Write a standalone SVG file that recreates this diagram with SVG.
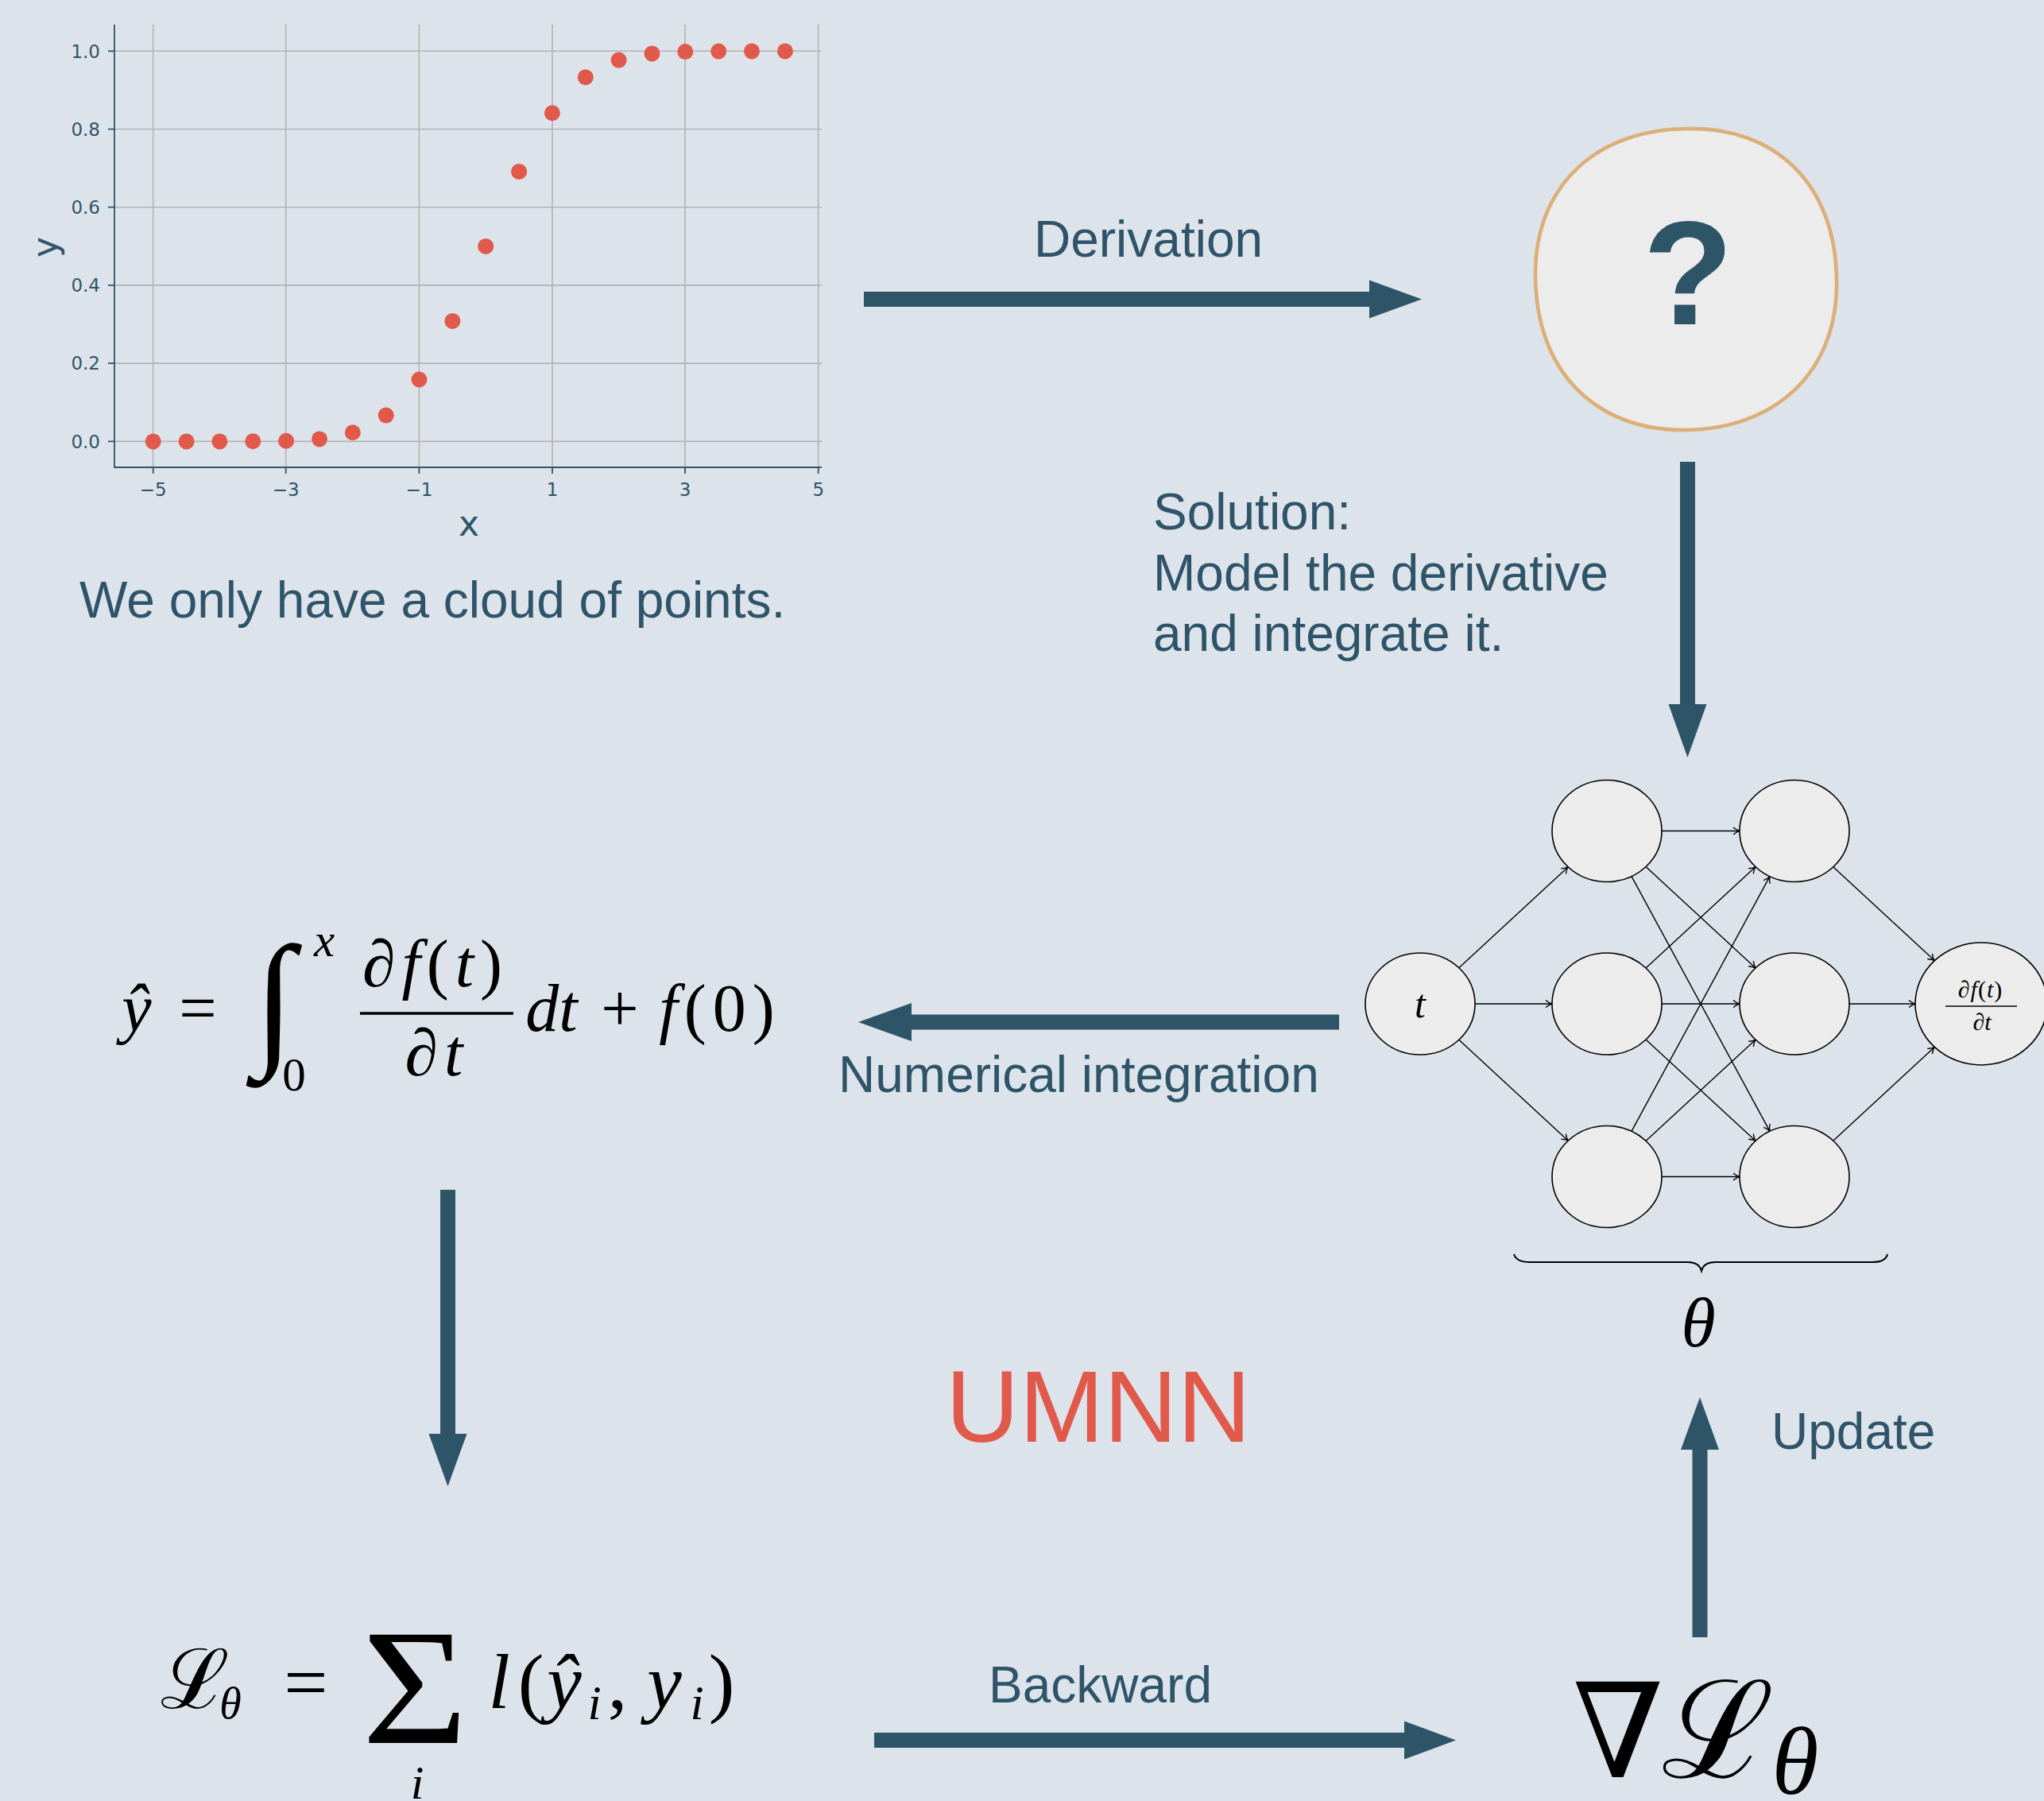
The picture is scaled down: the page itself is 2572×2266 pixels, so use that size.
<svg xmlns="http://www.w3.org/2000/svg" width="2572" height="2266" viewBox="0 0 2572 2266">
<defs>
<style>
.lbl{font-family:"Liberation Sans",Arial,sans-serif;font-size:64px;fill:#2f5469}
.math{font-family:"Liberation Serif","DejaVu Serif",serif;fill:#000}
.it{font-style:italic}
.arrow{fill:#2e5468}
.nn{fill:#ececec;stroke:#000;stroke-width:1.6}
.edge{stroke:#000;stroke-width:1.4;fill:none;marker-end:url(#tip)}
.grid{stroke:#b3b3b3;stroke-width:1.6}
.spine{stroke:#2f5469;stroke-width:1.8}
.tick{font-family:"DejaVu Sans",sans-serif;font-size:23px;fill:#2f5469}
.pt{fill:#e1594a}
</style>
<marker id="tip" viewBox="-10 -6 12 12" refX="0" refY="0" markerWidth="12" markerHeight="12" markerUnits="userSpaceOnUse" orient="auto">
<path d="M-8,-4.5 C-5,-2 -2,-0.5 0,0 C-2,0.5 -5,2 -8,4.5" fill="none" stroke="#000" stroke-width="1.4"/>
</marker>
</defs>
<rect x="0" y="0" width="2572" height="2266" fill="#dce3ea"/>

<g id="plot">
<g class="grid">
<line x1="192.7" y1="31" x2="192.7" y2="588"/>
<line x1="359.7" y1="31" x2="359.7" y2="588"/>
<line x1="527.4" y1="31" x2="527.4" y2="588"/>
<line x1="695" y1="31" x2="695" y2="588"/>
<line x1="862" y1="31" x2="862" y2="588"/>
<line x1="1029.7" y1="31" x2="1029.7" y2="588"/>
<line x1="144" y1="64.3" x2="1034" y2="64.3"/>
<line x1="144" y1="162.5" x2="1034" y2="162.5"/>
<line x1="144" y1="260.7" x2="1034" y2="260.7"/>
<line x1="144" y1="358.9" x2="1034" y2="358.9"/>
<line x1="144" y1="457.1" x2="1034" y2="457.1"/>
<line x1="144" y1="555.4" x2="1034" y2="555.4"/>
</g>
<g class="spine">
<line x1="144" y1="31" x2="144" y2="588"/>
<line x1="143" y1="588" x2="1034" y2="588"/>
<line x1="136" y1="64.3" x2="144" y2="64.3"/>
<line x1="136" y1="162.5" x2="144" y2="162.5"/>
<line x1="136" y1="260.7" x2="144" y2="260.7"/>
<line x1="136" y1="358.9" x2="144" y2="358.9"/>
<line x1="136" y1="457.1" x2="144" y2="457.1"/>
<line x1="136" y1="555.4" x2="144" y2="555.4"/>
<line x1="192.7" y1="588" x2="192.7" y2="596"/>
<line x1="359.7" y1="588" x2="359.7" y2="596"/>
<line x1="527.4" y1="588" x2="527.4" y2="596"/>
<line x1="695" y1="588" x2="695" y2="596"/>
<line x1="862" y1="588" x2="862" y2="596"/>
<line x1="1029.7" y1="588" x2="1029.7" y2="596"/>
</g>
<g class="tick" text-anchor="end">
<text x="126" y="72.6">1.0</text>
<text x="126" y="170.8">0.8</text>
<text x="126" y="269">0.6</text>
<text x="126" y="367.2">0.4</text>
<text x="126" y="465.4">0.2</text>
<text x="126" y="563.7">0.0</text>
</g>
<g class="tick" text-anchor="middle">
<text x="192.7" y="624">−5</text>
<text x="359.7" y="624">−3</text>
<text x="527.4" y="624">−1</text>
<text x="695" y="624">1</text>
<text x="862" y="624">3</text>
<text x="1029.7" y="624">5</text>
</g>
<text class="tick" x="590" y="674" text-anchor="middle" style="font-size:44px">x</text>
<text class="tick" transform="translate(72,311) rotate(-90)" text-anchor="middle" style="font-size:44px">y</text>
<g class="pt">
<circle cx="192.7" cy="555.4" r="10"/>
<circle cx="234.6" cy="555.4" r="10"/>
<circle cx="276.4" cy="555.4" r="10"/>
<circle cx="318.3" cy="555.3" r="10"/>
<circle cx="360.1" cy="554.7" r="10"/>
<circle cx="402" cy="552.4" r="10"/>
<circle cx="443.8" cy="544.2" r="10"/>
<circle cx="485.7" cy="522.6" r="10"/>
<circle cx="527.5" cy="477.5" r="10"/>
<circle cx="569.4" cy="403.9" r="10"/>
<circle cx="611.2" cy="309.9" r="10"/>
<circle cx="653.1" cy="215.9" r="10"/>
<circle cx="694.9" cy="142.3" r="10"/>
<circle cx="736.8" cy="97.2" r="10"/>
<circle cx="778.6" cy="75.6" r="10"/>
<circle cx="820.5" cy="67.4" r="10"/>
<circle cx="862.3" cy="65.1" r="10"/>
<circle cx="904.2" cy="64.5" r="10"/>
<circle cx="946" cy="64.4" r="10"/>
<circle cx="987.9" cy="64.4" r="10"/>
</g>
<text class="lbl" x="100" y="777">We only have a cloud of points.</text>
</g>

<g id="unknown">
<path d="M2125,162 C2232,160 2311,230 2311,355 C2312,470 2232,541 2118,541 C2010,541 1932,470 1932,345 C1932,232 2010,162 2125,162 Z" fill="#ececec" stroke="#dcaf78" stroke-width="4.7"/>
<text x="2124" y="408" text-anchor="middle" style="font-family:'Liberation Sans',Arial,sans-serif;font-weight:bold;font-size:186px;fill:#2e5468">?</text>
</g>

<g id="solution-label">
<text class="lbl" x="1451" y="666">Solution:</text>
<text class="lbl" x="1451" y="743">Model the derivative</text>
<text class="lbl" x="1451" y="819">and integrate it.</text>
</g>

<g id="network">
<g id="nn-edges">
<line class="edge" x1="1835.8" y1="1217.8" x2="1973.2" y2="1090.7"/>
<line class="edge" x1="1856" y1="1263" x2="1953" y2="1263"/>
<line class="edge" x1="1835.8" y1="1308.2" x2="1973.2" y2="1435.3"/>
<line class="edge" x1="2091" y1="1045.5" x2="2189" y2="1045.5"/>
<line class="edge" x1="2071" y1="1090.6" x2="2209.1" y2="1217.9"/>
<line class="edge" x1="2053" y1="1102.7" x2="2227" y2="1423.3"/>
<line class="edge" x1="2071" y1="1217.9" x2="2209.1" y2="1090.6"/>
<line class="edge" x1="2091" y1="1263" x2="2189" y2="1263"/>
<line class="edge" x1="2071" y1="1308.1" x2="2209.1" y2="1435.4"/>
<line class="edge" x1="2053" y1="1423.3" x2="2227" y2="1102.7"/>
<line class="edge" x1="2071" y1="1435.4" x2="2209.1" y2="1308.1"/>
<line class="edge" x1="2091" y1="1480.5" x2="2189" y2="1480.5"/>
<line class="edge" x1="2306.8" y1="1090.7" x2="2434.2" y2="1208.6"/>
<line class="edge" x1="2327" y1="1263" x2="2410" y2="1263"/>
<line class="edge" x1="2306.8" y1="1435.3" x2="2434.2" y2="1317.4"/>
</g>
<g id="n-t"><ellipse class="nn" cx="1787" cy="1263" rx="69" ry="64"/><text class="math it" x="1787" y="1280" text-anchor="middle" font-size="50">t</text></g>
<g id="n-a1"><ellipse class="nn" cx="2022" cy="1045.5" rx="69" ry="64"/></g>
<g id="n-a2"><ellipse class="nn" cx="2022" cy="1263" rx="69" ry="64"/></g>
<g id="n-a3"><ellipse class="nn" cx="2022" cy="1480.5" rx="69" ry="64"/></g>
<g id="n-b1"><ellipse class="nn" cx="2258" cy="1045.5" rx="69" ry="64"/></g>
<g id="n-b2"><ellipse class="nn" cx="2258" cy="1263" rx="69" ry="64"/></g>
<g id="n-b3"><ellipse class="nn" cx="2258" cy="1480.5" rx="69" ry="64"/></g>
<g id="n-out">
<ellipse class="nn" cx="2493" cy="1263" rx="83" ry="77"/>
<text class="math" x="2492" y="1255" text-anchor="middle" font-size="30" letter-spacing="1">∂<tspan class="it">f</tspan>(<tspan class="it">t</tspan>)</text>
<line x1="2448" y1="1266" x2="2538" y2="1266" stroke="#000" stroke-width="1.5"/>
<text class="math" x="2494" y="1296" text-anchor="middle" font-size="30">∂<tspan class="it">t</tspan></text>
</g>
<g id="theta-brace">
<path d="M1905,1578 Q1908,1588 1925,1588 L2124,1588 Q2138,1588 2141,1599 Q2144,1588 2158,1588 L2356,1588 Q2373,1588 2375,1578" fill="none" stroke="#000" stroke-width="2"/>
<text class="math it" x="2137" y="1694" text-anchor="middle" font-size="88">θ</text>
</g>
</g>

<g id="integral-eq" class="math">
<text class="it" x="172" y="1297" text-anchor="middle" font-size="84">ŷ</text>
<text x="249" y="1297" text-anchor="middle" font-size="84">=</text>
<text class="it" x="345" y="1319" text-anchor="middle" font-size="186">∫</text>
<text class="it" x="408" y="1203" text-anchor="middle" font-size="59">x</text>
<text x="370" y="1372" text-anchor="middle" font-size="59">0</text>
<text x="548" y="1241" text-anchor="middle" font-size="84" letter-spacing="8">∂<tspan class="it">f</tspan>(<tspan class="it">t</tspan>)</text>
<line x1="453" y1="1275" x2="646" y2="1275" stroke="#000" stroke-width="3.5"/>
<text x="550" y="1353" text-anchor="middle" font-size="84" letter-spacing="8">∂<tspan class="it">t</tspan></text>
<text class="it" x="694" y="1297" text-anchor="middle" font-size="84">dt</text>
<text x="780" y="1297" text-anchor="middle" font-size="84">+</text>
<text x="906" y="1297" text-anchor="middle" font-size="84" letter-spacing="8"><tspan class="it">f</tspan>(0)</text>
</g>

<g id="loss-eq" class="math">
<text x="245" y="2149" text-anchor="middle" font-size="104">ℒ</text>
<text class="it" x="290" y="2162" text-anchor="middle" font-size="56">θ</text>
<text x="385" y="2149" text-anchor="middle" font-size="98">=</text>
<text transform="translate(522,2193) scale(1.1,1)" text-anchor="middle" font-size="208">Σ</text>
<text class="it" x="525" y="2263" text-anchor="middle" font-size="60">i</text>
<text class="it" x="628" y="2149" text-anchor="middle" font-size="98">l</text>
<text x="668" y="2149" text-anchor="middle" font-size="98">(</text>
<text class="it" x="710" y="2149" text-anchor="middle" font-size="98">ŷ</text>
<text class="it" x="748" y="2163" text-anchor="middle" font-size="62">i</text>
<text x="777" y="2149" text-anchor="middle" font-size="98">,</text>
<text class="it" x="836" y="2149" text-anchor="middle" font-size="98">y</text>
<text class="it" x="877" y="2163" text-anchor="middle" font-size="62">i</text>
<text x="908" y="2149" text-anchor="middle" font-size="98">)</text>
</g>

<g id="gradient" class="math">
<text x="2036" y="2236" text-anchor="middle" font-size="165">∇</text>
<text x="2162" y="2236" text-anchor="middle" font-size="170">ℒ</text>
<text class="it" x="2259" y="2257" text-anchor="middle" font-size="120">θ</text>
</g>

<g id="umnn-title">
<text x="1190" y="1814" style="font-family:'Liberation Sans',Arial,sans-serif;font-size:128px;fill:#e1594a">UMNN</text>
</g>

<g id="connectors">
<polygon class="arrow" points="1087,367 1723,367 1723,352.5 1789,376.5 1723,400.5 1723,386 1087,386"/>
<text class="lbl" x="1445" y="323" text-anchor="middle">Derivation</text>
<polygon class="arrow" points="2114,581 2133,581 2133,886 2147.5,886 2123.5,953 2099.5,886 2114,886"/>
<polygon class="arrow" points="1685,1276.5 1147,1276.5 1147,1262 1080,1286 1147,1310 1147,1295.5 1685,1295.5"/>
<text class="lbl" x="1055" y="1374">Numerical integration</text>
<polygon class="arrow" points="554,1497 573,1497 573,1804 587.5,1804 563.5,1870 539.5,1804 554,1804"/>
<polygon class="arrow" points="1100,2180 1767,2180 1767,2165.5 1832,2189.5 1767,2213.5 1767,2199 1100,2199"/>
<text class="lbl" x="1244" y="2142">Backward</text>
<polygon class="arrow" points="2129.5,2060 2148.5,2060 2148.5,1824 2163,1824 2139,1758 2115,1824 2129.5,1824"/>
<text class="lbl" x="2229" y="1823">Update</text>
</g>
</svg>
